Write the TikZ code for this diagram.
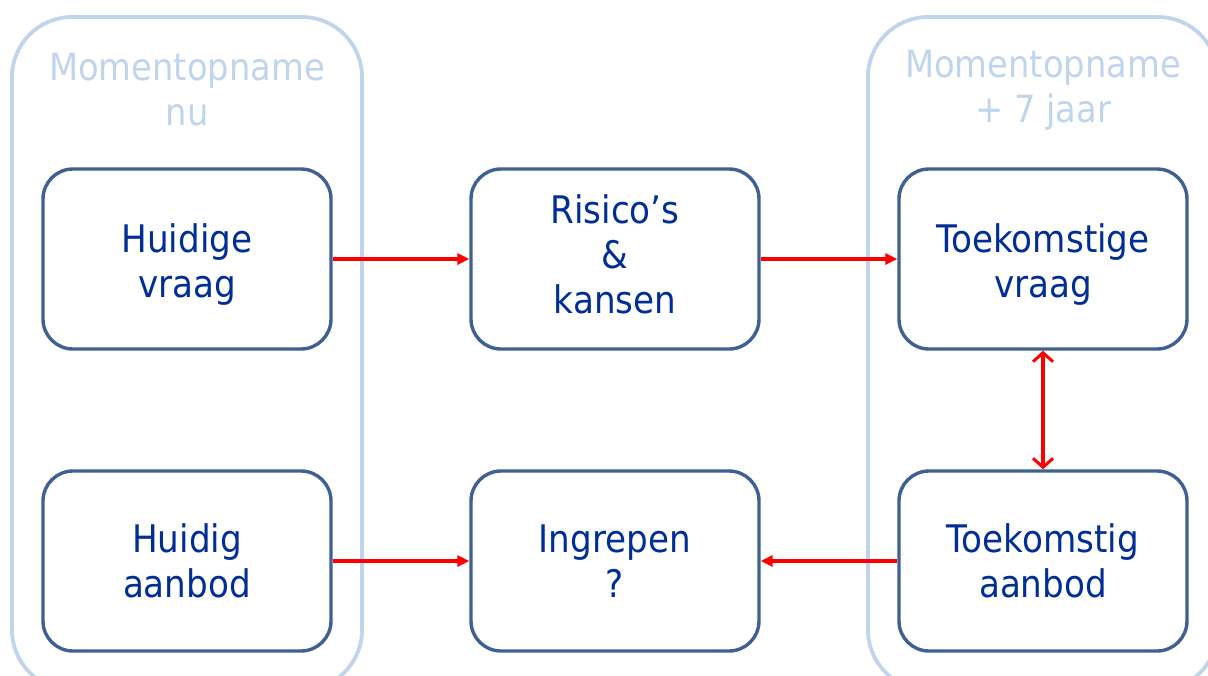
\documentclass[tikz,border=0pt]{standalone}
\usepackage{fontspec}
\setmainfont{DejaVu Sans}[FakeStretch=0.9]
\usetikzlibrary{arrows.meta}
\definecolor{frameblue}{RGB}{192,212,236}
\definecolor{boxblue}{RGB}{62,96,146}
\definecolor{textblue}{RGB}{0,46,150}
\definecolor{linkred}{RGB}{255,0,0}
% invisible struts that even out the vertical placement of labels
\newcommand\tallstrut{\rule{0pt}{39pt}}
\newcommand\deepstrut{\rule[-9pt]{0pt}{9pt}}
\tikzset{
  phase/.style={draw=frameblue, line width=3.8pt, rounded corners=60pt},
  phasetitle/.style={text=frameblue, align=center, font=\fontsize{37.5}{45}\selectfont, inner sep=0pt},
  stage/.style={draw=boxblue, line width=3.4pt, rounded corners=30pt, minimum width=288pt,
    minimum height=180pt, align=center, text=textblue, font=\fontsize{38}{45}\selectfont},
  link/.style={draw=linkred, line width=3.2pt, -{Triangle[length=12pt,width=11pt]}},
  twoway/.style={draw=linkred, line width=3.2pt,
    {Straight Barb[length=9pt,width=20pt,line width=3pt]}-{Straight Barb[length=9pt,width=20pt,line width=3pt]}}
}
\begin{document}
\begin{tikzpicture}[x=1pt,y=-1pt]
  \useasboundingbox (0,0) rectangle (1208,675);
  % the two time frames
  \draw[phase] (12,17) rectangle (362,690);
  \draw[phase] (868,17) rectangle (1218,690);
  \node[phasetitle] (tnow) at (187,90) {Momentopname\\nu};
  \node[phasetitle] (tlater) at (1043,90) {Momentopname\\+ 7 jaar};
  % stages
  \node[stage] (hv) at (187,259) {\tallstrut Huidige\\vraag};
  \node[stage] (rk) at (615,259) {Risico’s\\\&\\kansen\deepstrut};
  \node[stage] (tv) at (1043,259) {\tallstrut Toekomstige\\vraag};
  \node[stage] (ha) at (187,561) {Huidig\\aanbod};
  \node[stage] (ig) at (615,561) {Ingrepen\\?};
  \node[stage] (ta) at (1043,561) {Toekomstig\\aanbod};
  % connections
  \draw[link] (hv.east) -- (rk.west);
  \draw[link] (rk.east) -- (tv.west);
  \draw[link] (ha.east) -- (ig.west);
  \draw[link] (ta.west) -- (ig.east);
  \draw[twoway] (tv.south) -- (ta.north);
\end{tikzpicture}
\end{document}
